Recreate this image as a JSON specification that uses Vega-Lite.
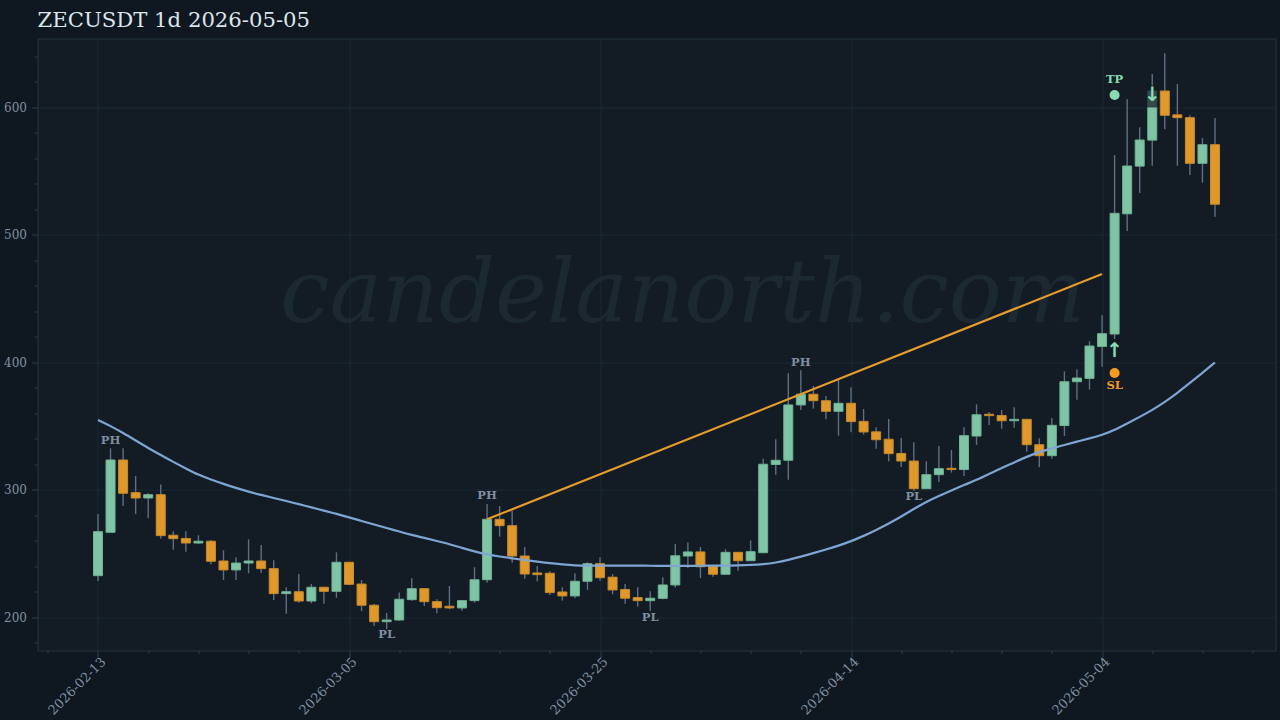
{
  "$schema": "https://vega.github.io/schema/vega-lite/v6.json",
  "width": 1238,
  "height": 612,
  "autosize": "none",
  "padding": {"left": 37.5, "top": 38.5, "right": 4.5, "bottom": 69.5},
  "background": "#0f1720",
  "view": {"fill": "#131b25", "stroke": "#26363f", "strokeWidth": 1},
  "title": {"text": "ZECUSDT 1d 2026-05-05", "anchor": "start", "frame": "group", "font": "DejaVu Serif", "fontSize": 21.2, "fontWeight": "normal", "color": "#dde5ec", "offset": 7},
  "datasets": {
    "candles": [
      {"date":"2026-02-13","open":232.8,"high":281.2,"low":228.6,"close":267.3,"ema":354.9},
      {"date":"2026-02-14","open":266.8,"high":332.7,"low":266.5,"close":323.5,"ema":350.2},
      {"date":"2026-02-15","open":323.5,"high":332.7,"low":287.4,"close":297.4,"ema":344.7},
      {"date":"2026-02-16","open":297.9,"high":311,"low":281.2,"close":293.7,"ema":338.8},
      {"date":"2026-02-17","open":293.7,"high":297.4,"low":277.8,"close":296.3,"ema":332.9},
      {"date":"2026-02-18","open":296.3,"high":304.2,"low":261.8,"close":264.2,"ema":327.4},
      {"date":"2026-02-19","open":264.5,"high":267.6,"low":253.2,"close":261.8,"ema":322},
      {"date":"2026-02-20","open":262,"high":267.6,"low":251.6,"close":258.4,"ema":316.9},
      {"date":"2026-02-21","open":258.4,"high":264.5,"low":257.6,"close":259.8,"ema":311.8},
      {"date":"2026-02-22","open":259.8,"high":260.8,"low":241.7,"close":244.1,"ema":308.2},
      {"date":"2026-02-23","open":244.3,"high":252.7,"low":229.4,"close":237.3,"ema":304.7},
      {"date":"2026-02-24","open":237.3,"high":247.2,"low":229.4,"close":242.7,"ema":301.6},
      {"date":"2026-02-25","open":242.7,"high":261.3,"low":234.7,"close":244.3,"ema":298.7},
      {"date":"2026-02-26","open":244.3,"high":256.9,"low":234.9,"close":238.3,"ema":296.1},
      {"date":"2026-02-27","open":238.3,"high":244.9,"low":213.7,"close":218.7,"ema":293.7},
      {"date":"2026-02-28","open":218.7,"high":223.7,"low":203,"close":220.2,"ema":291.4},
      {"date":"2026-03-01","open":220.2,"high":234.1,"low":211.6,"close":212.9,"ema":289},
      {"date":"2026-03-02","open":212.9,"high":226.3,"low":211.1,"close":223.7,"ema":286.3},
      {"date":"2026-03-03","open":223.7,"high":223.8,"low":210.8,"close":220.5,"ema":283.9},
      {"date":"2026-03-04","open":220.5,"high":251.1,"low":215.5,"close":243.3,"ema":281.2},
      {"date":"2026-03-05","open":243.3,"high":243.5,"low":225.7,"close":226,"ema":278.6},
      {"date":"2026-03-06","open":226.2,"high":229.4,"low":205.1,"close":209.6,"ema":275.7},
      {"date":"2026-03-07","open":209.6,"high":210.6,"low":193.3,"close":196.7,"ema":272.9},
      {"date":"2026-03-08","open":196.7,"high":203.5,"low":191,"close":198,"ema":270.2},
      {"date":"2026-03-09","open":198,"high":219.5,"low":197.5,"close":214.3,"ema":267.4},
      {"date":"2026-03-10","open":214,"high":230.7,"low":213.2,"close":222.6,"ema":264.7},
      {"date":"2026-03-11","open":222.6,"high":222.8,"low":209,"close":212.4,"ema":262.4},
      {"date":"2026-03-12","open":212.4,"high":214.3,"low":203.3,"close":207.7,"ema":260},
      {"date":"2026-03-13","open":208.8,"high":224.7,"low":206.4,"close":207.5,"ema":257.6},
      {"date":"2026-03-14","open":207.5,"high":213.5,"low":205.3,"close":213.2,"ema":254.5},
      {"date":"2026-03-15","open":213.2,"high":239.4,"low":211.6,"close":229.6,"ema":251.8},
      {"date":"2026-03-16","open":229.6,"high":289,"low":227.3,"close":277,"ema":249.4},
      {"date":"2026-03-17","open":277,"high":287.4,"low":263.4,"close":272,"ema":247.8},
      {"date":"2026-03-18","open":272,"high":283.8,"low":243,"close":248.2,"ema":246.4},
      {"date":"2026-03-19","open":248.2,"high":255.3,"low":230.4,"close":234.1,"ema":245.1},
      {"date":"2026-03-20","open":234.9,"high":240.4,"low":228.4,"close":233.6,"ema":243.8},
      {"date":"2026-03-21","open":234.7,"high":236.2,"low":217.6,"close":219.5,"ema":242.5},
      {"date":"2026-03-22","open":220,"high":223.7,"low":213.2,"close":216.9,"ema":241.6},
      {"date":"2026-03-23","open":216.9,"high":234.7,"low":215.1,"close":228.4,"ema":240.8},
      {"date":"2026-03-24","open":228.4,"high":243.3,"low":221.6,"close":242.2,"ema":240.6},
      {"date":"2026-03-25","open":242.2,"high":247.2,"low":228.9,"close":231.2,"ema":240.7},
      {"date":"2026-03-26","open":231.6,"high":234.1,"low":218.2,"close":221.6,"ema":240.6},
      {"date":"2026-03-27","open":222,"high":226.3,"low":210.8,"close":215.1,"ema":240.6},
      {"date":"2026-03-28","open":215.6,"high":223.7,"low":208.5,"close":213.2,"ema":240.6},
      {"date":"2026-03-29","open":213.2,"high":220.5,"low":205.1,"close":215.1,"ema":240.6},
      {"date":"2026-03-30","open":215,"high":231.5,"low":214.3,"close":225.5,"ema":240.5},
      {"date":"2026-03-31","open":225.5,"high":257.6,"low":223.5,"close":248.4,"ema":240.4},
      {"date":"2026-04-01","open":248.2,"high":258.8,"low":238.8,"close":251.4,"ema":240.4},
      {"date":"2026-04-02","open":251.4,"high":255.3,"low":231,"close":239.8,"ema":240.6},
      {"date":"2026-04-03","open":240,"high":240.4,"low":232,"close":233.9,"ema":240.6},
      {"date":"2026-04-04","open":233.9,"high":253.5,"low":233.3,"close":251.1,"ema":240.7},
      {"date":"2026-04-05","open":251.1,"high":251.3,"low":236.7,"close":244.5,"ema":240.8},
      {"date":"2026-04-06","open":244.5,"high":260.5,"low":244.3,"close":251.6,"ema":241.2},
      {"date":"2026-04-07","open":250.8,"high":324.5,"low":250.6,"close":320.2,"ema":241.8},
      {"date":"2026-04-08","open":320,"high":339.8,"low":312,"close":323.3,"ema":243},
      {"date":"2026-04-09","open":323.3,"high":391.5,"low":308.1,"close":366.7,"ema":245.1},
      {"date":"2026-04-10","open":366.7,"high":393.9,"low":362.7,"close":375.1,"ema":247.7},
      {"date":"2026-04-11","open":375.1,"high":381.6,"low":363.8,"close":370,"ema":250.4},
      {"date":"2026-04-12","open":370,"high":373.7,"low":355.4,"close":361.7,"ema":253.3},
      {"date":"2026-04-13","open":361.7,"high":386.8,"low":342.6,"close":368,"ema":256.3},
      {"date":"2026-04-14","open":368,"high":380.5,"low":345.3,"close":353.6,"ema":259.8},
      {"date":"2026-04-15","open":353.8,"high":363.5,"low":343.4,"close":345.5,"ema":263.9},
      {"date":"2026-04-16","open":345.6,"high":349.2,"low":332.4,"close":339.4,"ema":268.6},
      {"date":"2026-04-17","open":339.8,"high":355.7,"low":322.5,"close":328.5,"ema":273.7},
      {"date":"2026-04-18","open":328.6,"high":340.8,"low":318,"close":322.7,"ema":279.1},
      {"date":"2026-04-19","open":322.7,"high":337.4,"low":299.4,"close":301,"ema":285.1},
      {"date":"2026-04-20","open":301,"high":322.5,"low":300.8,"close":312,"ema":290.8},
      {"date":"2026-04-21","open":312,"high":334.5,"low":306.3,"close":316.7,"ema":295.3},
      {"date":"2026-04-22","open":317,"high":331.4,"low":313.6,"close":316,"ema":299.6},
      {"date":"2026-04-23","open":316,"high":349.2,"low":311,"close":342.6,"ema":303.9},
      {"date":"2026-04-24","open":342.3,"high":367.2,"low":335.3,"close":359,"ema":307.8},
      {"date":"2026-04-25","open":359.4,"high":361.2,"low":351,"close":358.3,"ema":312.5},
      {"date":"2026-04-26","open":358.4,"high":362.7,"low":348.1,"close":354.3,"ema":317.3},
      {"date":"2026-04-27","open":354.3,"high":364.9,"low":348.9,"close":355.4,"ema":321.6},
      {"date":"2026-04-28","open":355.4,"high":355.6,"low":330,"close":335.5,"ema":326.1},
      {"date":"2026-04-29","open":335.5,"high":340.5,"low":317.8,"close":326.9,"ema":329.8},
      {"date":"2026-04-30","open":326.9,"high":356.5,"low":324.5,"close":350.7,"ema":332.7},
      {"date":"2026-05-01","open":350.5,"high":393.1,"low":342.4,"close":384.9,"ema":335.3},
      {"date":"2026-05-02","open":384.9,"high":394.7,"low":370.8,"close":387.8,"ema":337.9},
      {"date":"2026-05-03","open":387.5,"high":416.6,"low":378.7,"close":412.9,"ema":340.4},
      {"date":"2026-05-04","open":412.6,"high":437,"low":396.7,"close":422.6,"ema":343.1},
      {"date":"2026-05-05","open":422.3,"high":562.7,"low":418.4,"close":517,"ema":347.1},
      {"date":"2026-05-06","open":516.6,"high":606.4,"low":503.1,"close":554.1,"ema":352.2},
      {"date":"2026-05-07","open":554,"high":584.5,"low":532.9,"close":574.5,"ema":357.3},
      {"date":"2026-05-08","open":574.4,"high":626.3,"low":554.3,"close":612.9,"ema":362.7},
      {"date":"2026-05-09","open":612.9,"high":642.5,"low":582.9,"close":593.9,"ema":369},
      {"date":"2026-05-10","open":594.2,"high":618.4,"low":554.3,"close":592,"ema":376.1},
      {"date":"2026-05-11","open":592,"high":594,"low":547,"close":556.2,"ema":383.9},
      {"date":"2026-05-12","open":556.2,"high":576.1,"low":541,"close":570.8,"ema":391.8},
      {"date":"2026-05-13","open":570.8,"high":591.8,"low":514.3,"close":524.1,"ema":400}
    ],
    "trend": [
      {"date":"2026-03-16","price":277},
      {"date":"2026-05-04","price":469.4}
    ],
    "masks": [
      {"date":"2026-05-08","top":617.6,"bottom":600},
      {"date":"2026-05-05","top":418.4,"bottom":401.2}
    ],
    "labels": [
      {"date":"2026-02-14","price":338.4,"label":"PH","kind":"pivot"},
      {"date":"2026-03-08","price":186.3,"label":"PL","kind":"pivot"},
      {"date":"2026-03-16","price":295.3,"label":"PH","kind":"pivot"},
      {"date":"2026-03-29","price":199.6,"label":"PL","kind":"pivot"},
      {"date":"2026-04-10","price":399.6,"label":"PH","kind":"pivot"},
      {"date":"2026-04-19","price":294.5,"label":"PL","kind":"pivot"},
      {"date":"2026-05-05","price":621.6,"label":"TP","kind":"tp"},
      {"date":"2026-05-05","price":381.6,"label":"SL","kind":"sl"}
    ],
    "levels": [
      {"date":"2026-05-05","price":609.8,"kind":"tp"},
      {"date":"2026-05-05","price":391.8,"kind":"sl"}
    ],
    "arrows": [
      {"date":"2026-05-05","price":409,"arrow":"↑"},
      {"date":"2026-05-08","price":609.8,"arrow":"↓"}
    ],
    "watermark": [
      {"date":"2026-03-31T14:00:00Z","price":431.8,"label":"candelanorth.com"}
    ]
  },
  "data": {"name": "candles"},
  "encoding": {
    "x": {
      "field": "date",
      "type": "temporal",
      "title": null,
      "scale": {"type": "utc", "nice": false, "padding": 0, "domain": ["2026-02-08T04:19:00Z", "2026-05-17T19:41:00Z"]},
      "axis": {
        "values": ["2026-02-09","2026-02-13","2026-02-17","2026-02-21","2026-02-25","2026-03-01","2026-03-05","2026-03-09","2026-03-13","2026-03-17","2026-03-21","2026-03-25","2026-03-29","2026-04-02","2026-04-06","2026-04-10","2026-04-14","2026-04-18","2026-04-22","2026-04-26","2026-04-30","2026-05-04","2026-05-08","2026-05-12","2026-05-16"],
        "labelExpr": "(datum.value - utc(2026,1,13)) % 1728000000 == 0 ? utcFormat(datum.value, '%Y-%m-%d') : ''",
        "labelAngle": -45,
        "labelAlign": "right",
        "labelBaseline": "top",
        "labelFont": "DejaVu Serif",
        "labelFontSize": 13,
        "labelColor": "#8091a3",
        "labelPadding": -1.5,
        "labelOffset": 1,
        "labelOverlap": false,
        "labelBound": false,
        "labelFlush": false,
        "domain": false,
        "tickCount": 40,
        "tickColor": "#2c3d4b",
        "tickSize": {"condition": {"test": "(datum.value - utc(2026,1,13)) % 1728000000 == 0", "value": 6}, "value": 3},
        "grid": true,
        "gridColor": "#1b2b32",
        "gridOpacity": {"condition": {"test": "(datum.value - utc(2026,1,13)) % 1728000000 == 0", "value": 1}, "value": 0}
      }
    }
  },
  "layer": [
    {
      "data": {"name": "watermark"},
      "mark": {"type": "text", "font": "DejaVu Serif", "fontStyle": "italic", "fontSize": 88, "baseline": "alphabetic", "align": "center", "color": "#1d2932"},
      "encoding": {
        "y": {"field": "price", "type": "quantitative", "title": null, "scale": {"domain": [174.1, 654.1], "nice": false, "zero": false},
          "axis": {
            "values": [180,200,220,240,260,280,300,320,340,360,380,400,420,440,460,480,500,520,540,560,580,600,620,640],
            "tickCount": 30,
            "labelExpr": "datum.value % 100 == 0 ? datum.value : ''",
            "labelFont": "DejaVu Serif",
            "labelFontSize": 12,
            "labelColor": "#8091a3",
            "labelPadding": 5,
            "labelOverlap": false,
            "labelFlush": false,
            "domain": false,
            "tickColor": "#2c3d4b",
            "tickSize": {"condition": {"test": "datum.value % 100 == 0", "value": 6}, "value": 3},
            "grid": true,
            "gridColor": "#1b2b32",
            "gridOpacity": {"condition": {"test": "datum.value % 100 == 0", "value": 1}, "value": 0}
          }
        },
        "text": {"field": "label"}
      }
    },
    {
      "mark": {"type": "rule", "color": "#5d6f82", "strokeWidth": 1.4},
      "encoding": {
        "y": {"field": "low", "type": "quantitative", "scale": {"domain": [174.1, 654.1], "nice": false, "zero": false}},
        "y2": {"field": "high"}
      }
    },
    {
      "mark": {"type": "bar", "size": 9, "strokeWidth": 1},
      "encoding": {
        "y": {"field": "open", "type": "quantitative", "scale": {"domain": [174.1, 654.1], "nice": false, "zero": false}},
        "y2": {"field": "close"},
        "color": {"condition": {"test": "datum.close >= datum.open", "value": "#7fc5a5"}, "value": "#df982c"},
        "stroke": {"condition": {"test": "datum.close >= datum.open", "value": "#6fb394"}, "value": "#c98a28"}
      }
    },
    {
      "mark": {"type": "line", "color": "#7fa6d3", "strokeWidth": 2.2, "interpolate": "basis"},
      "encoding": {
        "y": {"field": "ema", "type": "quantitative", "scale": {"domain": [174.1, 654.1], "nice": false, "zero": false}}
      }
    },
    {
      "data": {"name": "trend"},
      "mark": {"type": "line", "color": "#e59c2b", "strokeWidth": 2.2},
      "encoding": {
        "y": {"field": "price", "type": "quantitative", "scale": {"domain": [174.1, 654.1], "nice": false, "zero": false}}
      }
    },
    {
      "data": {"name": "masks"},
      "mark": {"type": "bar", "size": 12, "color": "#131b25", "opacity": 0.72},
      "encoding": {
        "y": {"field": "bottom", "type": "quantitative", "scale": {"domain": [174.1, 654.1], "nice": false, "zero": false}},
        "y2": {"field": "top"}
      }
    },
    {
      "data": {"name": "arrows"},
      "mark": {"type": "text", "font": "DejaVu Sans", "fontSize": 20, "fontWeight": "bold", "color": "#86dbb1", "baseline": "middle"},
      "encoding": {
        "y": {"field": "price", "type": "quantitative", "scale": {"domain": [174.1, 654.1], "nice": false, "zero": false}},
        "text": {"field": "arrow"}
      }
    },
    {
      "data": {"name": "levels"},
      "mark": {"type": "point", "shape": "circle", "filled": true, "size": 100, "opacity": 1},
      "encoding": {
        "y": {"field": "price", "type": "quantitative", "scale": {"domain": [174.1, 654.1], "nice": false, "zero": false}},
        "color": {"field": "kind", "type": "nominal", "legend": null, "scale": {"domain": ["pivot","tp","sl"], "range": ["#7f8fa1","#86dbb1","#f39c1f"]}}
      }
    },
    {
      "data": {"name": "labels"},
      "mark": {"type": "text", "font": "DejaVu Serif", "fontSize": 11.5, "fontWeight": "bold", "baseline": "middle"},
      "encoding": {
        "y": {"field": "price", "type": "quantitative", "scale": {"domain": [174.1, 654.1], "nice": false, "zero": false}},
        "color": {"field": "kind", "type": "nominal", "legend": null, "scale": {"domain": ["pivot","tp","sl"], "range": ["#7f8fa1","#86dbb1","#f39c1f"]}},
        "text": {"field": "label"}
      }
    }
  ]
}
